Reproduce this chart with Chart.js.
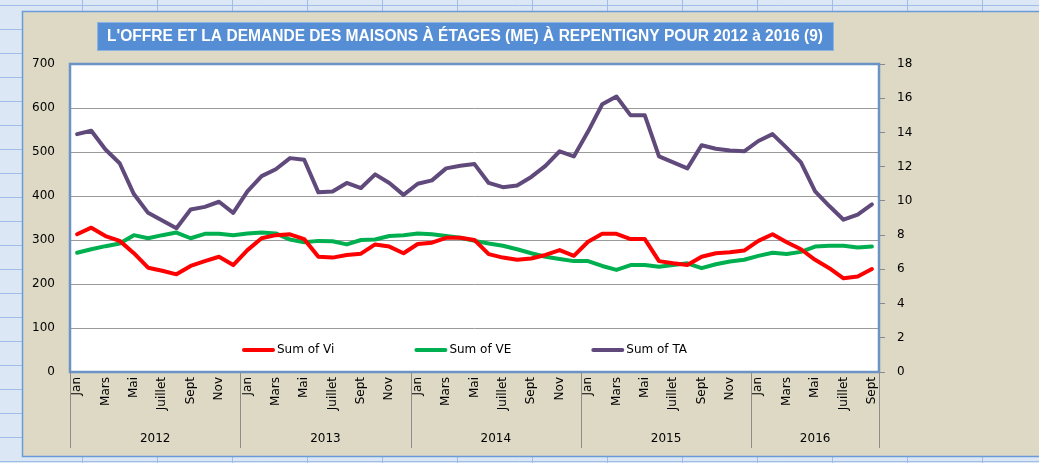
<!DOCTYPE html>
<html>
<head>
<meta charset="utf-8">
<script src="https://cdn.jsdelivr.net/npm/chart.js@4.4.1/dist/chart.umd.min.js"></script>
<style>
  html, body { margin: 0; padding: 0; background: #dde8f6; }
  #wrap { width: 1039px; height: 463px; }
</style>
</head>
<body>
<div id="wrap"><canvas id="myChart" width="1039" height="463"></canvas></div>
<script>
// months Jan 2012 -> Sept 2016
const months = ['Jan','Fév','Mars','Avr','Mai','Juin','Juillet','Août','Sept','Oct','Nov','Déc'];
const years = ['2012','2013','2014','2015','2016'];
const monthsLast = 9; // 2016 stops at Sept

const vi = [313,328,309,298,270,237,230,222,241,252,262,243,
            277,304,311,313,302,262,260,266,269,290,285,270,
            291,294,305,305,300,268,260,255,258,266,277,264,
            296,314,314,302,302,252,247,243,262,270,272,276,
            298,313,295,279,255,236,213,217,234];
const ve = [271,279,286,292,311,304,311,317,304,314,314,311,
            315,317,315,301,295,298,297,290,300,301,309,311,
            315,313,309,305,298,292,287,279,270,262,257,252,
            252,241,232,243,243,239,243,247,236,245,251,255,
            264,271,268,273,285,287,287,283,285];
const ta = [13.9,14.1,13.0,12.2,10.4,9.3,8.85,8.4,9.5,9.65,9.95,9.3,
            10.55,11.45,11.85,12.5,12.4,10.5,10.55,11.05,10.75,11.55,11.05,10.35,
            11.0,11.2,11.9,12.05,12.15,11.05,10.8,10.9,11.4,12.05,12.9,12.6,
            14.05,15.65,16.1,15.0,15.0,12.6,12.25,11.9,13.25,13.05,12.95,12.9,
            13.5,13.9,13.1,12.25,10.55,9.7,8.9,9.2,9.8];

const titleText = "L'OFFRE ET LA DEMANDE DES MAISONS À ÉTAGES (ME) À REPENTIGNY POUR 2012 à 2016 (9)";
const FONT = '"DejaVu Sans", Verdana, sans-serif';

// build category labels + year of each point
var labels = [];
var yearOf = [];
years.forEach(function (y, yi) {
  var n = (yi == years.length - 1) ? monthsLast : 12;
  for (var m = 0; m < n; m++) { labels.push(months[m]); yearOf.push(y); }
});

// sheet background, chart box, plot area, title
const backPlugin = {
  id: 'back',
  beforeDraw(chart) {
    const ctx = chart.ctx, a = chart.chartArea;
    ctx.save();
    ctx.fillStyle = '#dce7f5';
    ctx.fillRect(0, 0, chart.width, chart.height);
    ctx.strokeStyle = '#9fbde6';
    ctx.lineWidth = 1;
    for (var x = 82; x < chart.width; x += 75) {
      ctx.beginPath(); ctx.moveTo(x + 0.5, 0); ctx.lineTo(x + 0.5, chart.height); ctx.stroke();
    }
    for (var y = 5; y < chart.height; y += 24) {
      ctx.beginPath(); ctx.moveTo(0, y + 0.5); ctx.lineTo(chart.width, y + 0.5); ctx.stroke();
    }
    ctx.fillStyle = '#ddd9c4';
    ctx.fillRect(22, 11, chart.width - 22, 446);
    ctx.strokeStyle = '#6a9ad8';
    ctx.lineWidth = 1.5;
    ctx.strokeRect(22.5, 11.5, chart.width, 445);
    ctx.fillStyle = '#ffffff';
    ctx.fillRect(a.left, a.top, a.right - a.left, a.bottom - a.top);

    // title box
    ctx.fillStyle = '#558ed5';
    ctx.fillRect(97, 22, 736, 28);
    ctx.strokeStyle = '#8db3e2';
    ctx.lineWidth = 1;
    ctx.strokeRect(97.5, 22.5, 736, 28);
    ctx.font = 'bold 16px "Liberation Sans Narrow", "Liberation Sans", Arial, sans-serif';
    ctx.fillStyle = '#ffffff';
    ctx.textBaseline = 'middle';
    ctx.textAlign = 'center';
    var w = ctx.measureText(titleText).width;
    var target = 716;
    ctx.translate(465, 37);
    ctx.scale(target / w, 1);
    ctx.fillText(titleText, 0, 0);
    ctx.restore();
  },
  afterDraw(chart) {
    const ctx = chart.ctx, a = chart.chartArea, xs = chart.scales.x;
    ctx.save();
    // plot border
    ctx.strokeStyle = '#6b93c6';
    ctx.lineWidth = 2.5;
    ctx.strokeRect(a.left, a.top, a.right - a.left, a.bottom - a.top);

    // year separators and year labels
    var half = (xs.getPixelForValue(1) - xs.getPixelForValue(0)) / 2;
    ctx.strokeStyle = '#8c8c8c';
    ctx.lineWidth = 1;
    ctx.fillStyle = '#000';
    ctx.font = '12px ' + FONT;
    ctx.textAlign = 'center';
    ctx.textBaseline = 'middle';
    var start = 0;
    for (var i = 0; i <= labels.length; i++) {
      if (i == labels.length || (i > 0 && yearOf[i] != yearOf[i - 1])) {
        var x0 = xs.getPixelForValue(start) - half;
        var x1 = xs.getPixelForValue(i - 1) + half;
        ctx.fillText(yearOf[start], (x0 + x1) / 2, 439);
        start = i;
      }
      var sx = Math.round((i < labels.length ? xs.getPixelForValue(i) - half : xs.getPixelForValue(i - 1) + half)) + 0.5;
      if (i == 0 || i == labels.length || yearOf[i] != yearOf[i - 1]) {
        ctx.beginPath(); ctx.moveTo(sx, a.bottom); ctx.lineTo(sx, 448); ctx.stroke();
      }
    }

    // legend inside the plot
    ctx.font = '12px ' + FONT;
    ctx.textAlign = 'left';
    var items = chart.data.datasets.map(function (d) {
      return { text: d.label, color: d.borderColor, w: 35 + ctx.measureText(d.label).width };
    });
    var gap = 80;
    var total = items.reduce(function (s, it) { return s + it.w; }, 0) + gap * (items.length - 1);
    var lx = (a.left + a.right) / 2 - 10 - total / 2;
    var ly = 350;
    items.forEach(function (it) {
      ctx.strokeStyle = it.color;
      ctx.lineWidth = 4;
      ctx.lineCap = 'round';
      ctx.beginPath(); ctx.moveTo(lx + 2, ly); ctx.lineTo(lx + 31, ly); ctx.stroke();
      ctx.fillStyle = '#000';
      ctx.fillText(it.text, lx + 35, ly);
      lx += it.w + gap;
    });
    ctx.restore();
  }
};

var ctx = document.getElementById('myChart').getContext('2d');
var chart = new Chart(ctx, {
  type: 'line',
  data: {
    labels: labels,
    datasets: [
      { label: 'Sum of Vi', data: vi, borderColor: '#ff0000', yAxisID: 'y' },
      { label: 'Sum of VE', data: ve, borderColor: '#00b050', yAxisID: 'y' },
      { label: 'Sum of TA', data: ta, borderColor: '#604a7b', yAxisID: 'y1' }
    ]
  },
  options: {
    responsive: false,
    animation: false,
    layout: { padding: { top: 64, left: 0, right: 0, bottom: 0 } },
    elements: {
      point: { radius: 0 },
      line: { borderWidth: 4, tension: 0, borderJoinStyle: 'round', borderCapStyle: 'round' }
    },
    plugins: { legend: { display: false }, tooltip: { enabled: false } },
    scales: {
      x: {
        offset: true,
        grid: { display: false, drawTicks: false },
        border: { display: false },
        afterFit: function (s) { s.height = 91; },
        ticks: {
          autoSkip: false,
          minRotation: 90,
          maxRotation: 90,
          padding: 5,
          color: '#000',
          font: { family: FONT, size: 12 },
          callback: function (v, i) { return i % 2 == 0 ? labels[i] : ''; }
        }
      },
      y: {
        position: 'left',
        min: 0, max: 700,
        afterFit: function (s) { s.width = 70; },
        grid: { color: '#9a9a9a', lineWidth: 1, drawTicks: false },
        border: { display: false },
        ticks: { stepSize: 100, padding: 15, color: '#000', font: { family: FONT, size: 12 } }
      },
      y1: {
        position: 'right',
        min: 0, max: 18,
        afterFit: function (s) { s.width = 160; },
        grid: { drawOnChartArea: false, drawTicks: true, tickLength: 6, color: '#888' },
        border: { display: false },
        ticks: { stepSize: 2, padding: 12, color: '#000', font: { family: FONT, size: 12 } }
      }
    }
  },
  plugins: [backPlugin]
});
</script>
</body>
</html>
